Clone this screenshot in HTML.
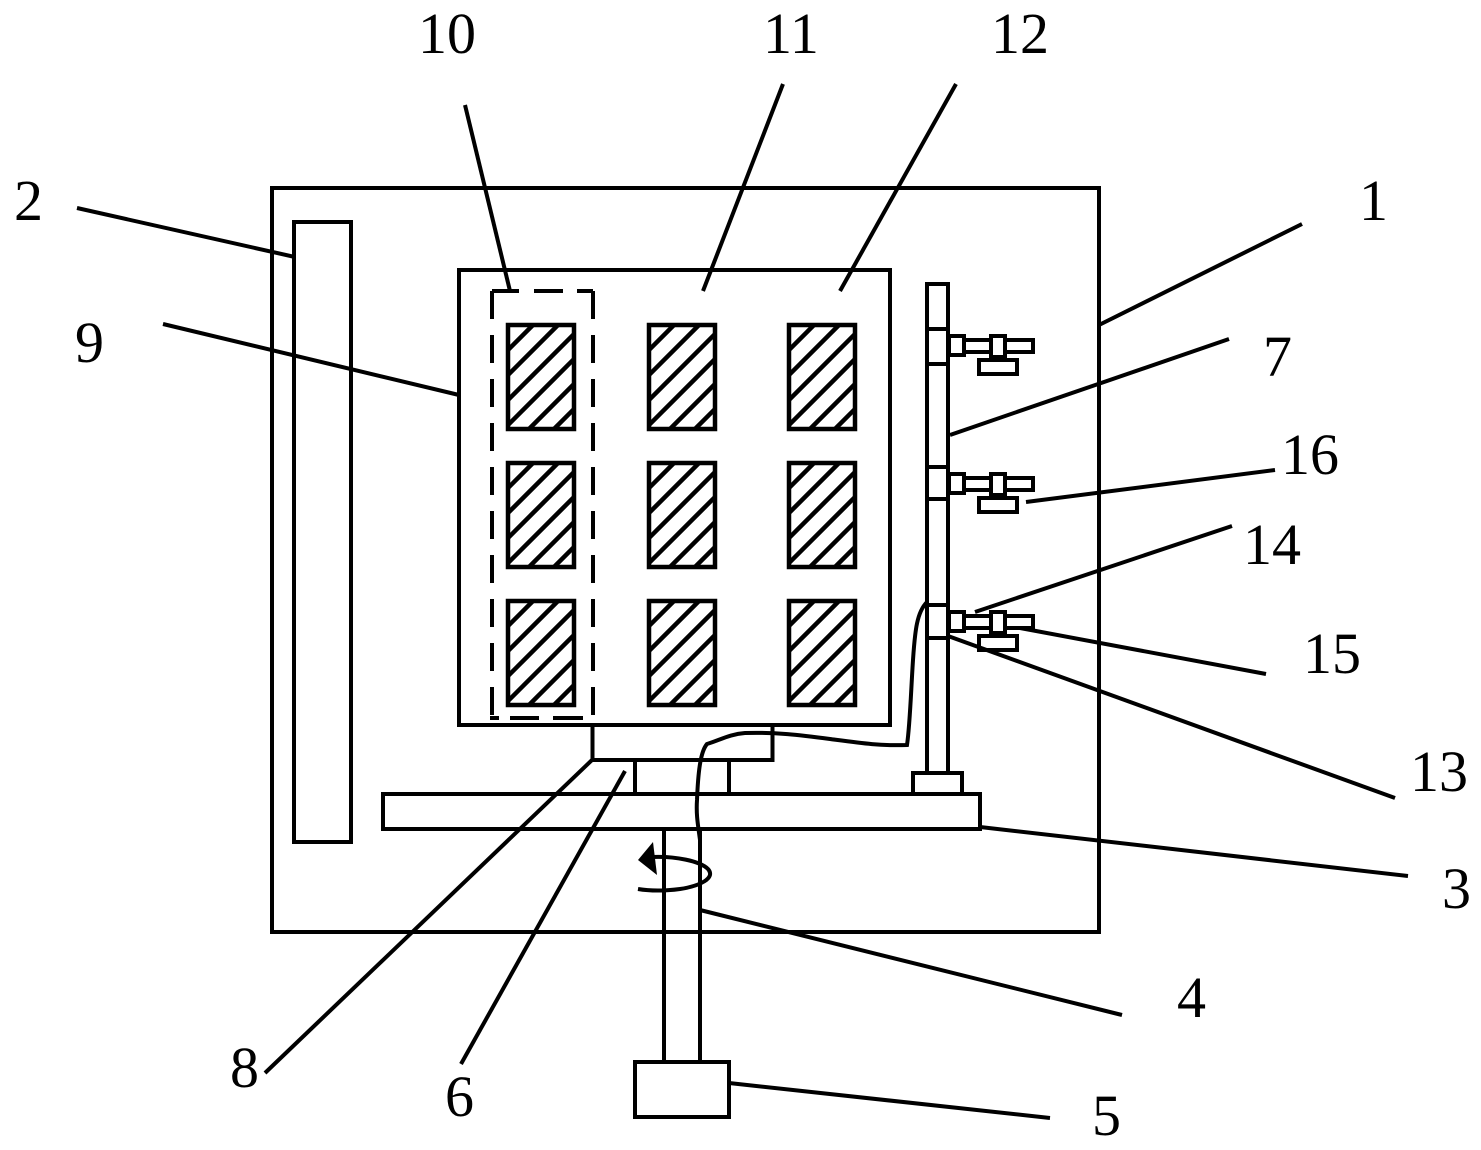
<!DOCTYPE html>
<html>
<head>
<meta charset="utf-8">
<style>
html,body{margin:0;padding:0;background:#fff;}
svg{display:block;}
text{font-family:"Liberation Serif",serif;font-size:58px;fill:#000;}
</style>
</head>
<body>
<svg xmlns="http://www.w3.org/2000/svg" width="1481" height="1150" viewBox="0 0 1481 1150">
<defs>
<clipPath id="c"><rect x="508" y="325" width="66" height="104"/></clipPath>
<g id="cell">
<g clip-path="url(#c)" stroke="#000" stroke-width="4.5" fill="none">
<line x1="358" y1="475" x2="558" y2="275"/>
<line x1="383" y1="475" x2="583" y2="275"/>
<line x1="408" y1="475" x2="608" y2="275"/>
<line x1="433" y1="475" x2="633" y2="275"/>
<line x1="458" y1="475" x2="658" y2="275"/>
<line x1="483" y1="475" x2="683" y2="275"/>
<line x1="508" y1="475" x2="708" y2="275"/>
<line x1="533" y1="475" x2="733" y2="275"/>
</g>
<rect x="508" y="325" width="66" height="104" fill="none" stroke="#000" stroke-width="4.5"/>
</g>
<g id="clamp" fill="#fff" stroke="#000" stroke-width="4">
<rect x="949" y="336" width="15" height="19"/>
<rect x="964" y="340" width="69" height="12"/>
<rect x="991" y="336" width="14" height="21"/>
<rect x="979" y="360" width="38" height="14"/>
<line x1="991" y1="358" x2="1005" y2="358" stroke-width="4"/>
</g>
</defs>
<rect width="1481" height="1150" fill="#fff"/>
<g fill="none" stroke="#000" stroke-width="4">
<rect x="272" y="188" width="827" height="744"/>
<rect x="294" y="222" width="57" height="620"/>
<rect x="459" y="270" width="431" height="455"/>
<rect x="592.5" y="725" width="180" height="35"/>
<line x1="635" y1="760" x2="635" y2="794"/>
<line x1="729" y1="760" x2="729" y2="794"/>
<rect x="383" y="794" width="597" height="35"/>
<rect x="913" y="773" width="49" height="21"/>
<line x1="664" y1="829" x2="664" y2="1062"/>
<line x1="700" y1="829" x2="700" y2="1062"/>
<rect x="635" y="1062" width="94" height="55"/>
<rect x="927" y="284" width="21" height="489"/>
<line x1="927" y1="329" x2="948" y2="329"/>
<line x1="927" y1="364" x2="948" y2="364"/>
<line x1="927" y1="467" x2="948" y2="467"/>
<line x1="927" y1="499" x2="948" y2="499"/>
<line x1="927" y1="605" x2="948" y2="605"/>
<line x1="927" y1="638" x2="948" y2="638"/>
</g>
<g stroke="#000" stroke-width="4" fill="none">
<line x1="492" y1="291" x2="519" y2="291"/>
<line x1="534" y1="291" x2="563" y2="291"/>
<line x1="577" y1="291" x2="593" y2="291"/>
<line x1="492" y1="291" x2="492" y2="717" stroke-dasharray="28 16"/>
<line x1="593" y1="291" x2="593" y2="717" stroke-dasharray="28 16"/>
<line x1="490" y1="718" x2="499" y2="718"/>
<line x1="510" y1="718" x2="539" y2="718"/>
<line x1="553" y1="718" x2="583" y2="718"/>
</g>
<use href="#cell"/>
<use href="#cell" x="141"/>
<use href="#cell" x="281"/>
<use href="#cell" y="138"/>
<use href="#cell" x="141" y="138"/>
<use href="#cell" x="281" y="138"/>
<use href="#cell" y="276"/>
<use href="#cell" x="141" y="276"/>
<use href="#cell" x="281" y="276"/>
<use href="#clamp"/>
<use href="#clamp" y="138"/>
<use href="#clamp" y="276"/>
<g stroke="#000" stroke-width="4" fill="none">
<path d="M927 602 C917 612 915 630 913 660 C911 690 910 725 907 745 C880 746 860 743 830 739 C800 735 775 732 745 733 C730 734 720 740 707 744 C700 752 698 775 697 800 C696 815 698 825 700 840 L700 862"/>
<path d="M652 857 C675 856 700 861 708 869 C716 878 700 886 680 889 C665 891 650 891 638 889"/>
</g>
<polygon points="638,860 653,842 657,875" fill="#000"/>
<g stroke="#000" stroke-width="4" fill="none">
<line x1="77" y1="208" x2="295" y2="257"/>
<line x1="163" y1="324" x2="459" y2="395"/>
<line x1="465" y1="105" x2="510" y2="291"/>
<line x1="783" y1="84" x2="703" y2="291"/>
<line x1="956" y1="84" x2="840" y2="291"/>
<line x1="1302" y1="224" x2="1099" y2="325"/>
<line x1="1229" y1="339" x2="950" y2="435"/>
<line x1="1275" y1="470" x2="1026" y2="502"/>
<line x1="1232" y1="526" x2="975" y2="612"/>
<line x1="1266" y1="674" x2="1020" y2="628"/>
<line x1="1395" y1="798" x2="948" y2="636"/>
<line x1="1408" y1="876" x2="980" y2="827"/>
<line x1="1122" y1="1015" x2="700" y2="910"/>
<line x1="1050" y1="1118" x2="729" y2="1083"/>
<line x1="461" y1="1064" x2="625" y2="771"/>
<line x1="265" y1="1073" x2="592" y2="760"/>
</g>
<text x="418" y="53">10</text>
<text x="763" y="53">11</text>
<text x="991" y="53">12</text>
<text x="14" y="220">2</text>
<text x="1359" y="220">1</text>
<text x="75" y="362">9</text>
<text x="1263" y="376">7</text>
<text x="1281" y="474">16</text>
<text x="1243" y="564">14</text>
<text x="1303" y="673">15</text>
<text x="1410" y="791">13</text>
<text x="1442" y="908">3</text>
<text x="1177" y="1017">4</text>
<text x="1092" y="1135">5</text>
<text x="445" y="1116">6</text>
<text x="230" y="1087">8</text>
</svg>
</body>
</html>
